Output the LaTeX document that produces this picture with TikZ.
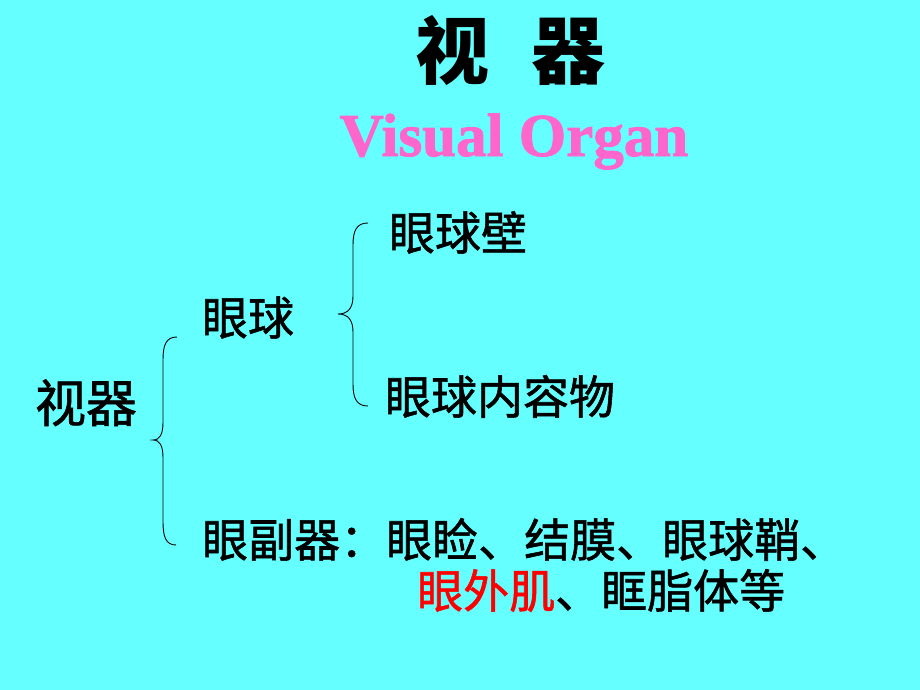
\documentclass[tikz,border=0pt]{standalone}
\usepackage{fontspec}
\setmainfont{Liberation Serif}
\newfontfamily\tnrb[FakeBold=1.5]{Liberation Serif Bold}
\newfontfamily\cjk{Noto Sans CJK SC}
\newfontfamily\cjkm[FakeBold=1.2]{Noto Sans CJK SC}
\definecolor{bgcyan}{HTML}{66FFFF}
\definecolor{pinkt}{HTML}{FF66CC}
\definecolor{redt}{HTML}{FF0000}
\begin{document}
\begin{tikzpicture}[x=1pt,y=-1pt,
  txt/.style={inner sep=0pt,anchor=base,font=\cjkm\fontsize{46}{46}\selectfont},
  brace/.style={draw=black,line width=0.9pt}]
\fill[bgcyan] (0,0) rectangle (920,690);
\useasboundingbox (0,0) rectangle (920,690);
% title
\node[txt,font=\cjk\bfseries\fontsize{74}{74}\selectfont] (t1) at (452,79) {视};
\node[txt,font=\cjk\bfseries\fontsize{74}{74}\selectfont] (t2) at (568,79) {器};
\node[inner sep=0pt,anchor=base,text=pinkt,font=\tnrb\fontsize{61}{61}\selectfont] (sub) at (514,156) {Visual Organ};
% items
\node[txt,font=\cjkm\fontsize{51}{51}\selectfont] (sq) at (86,422) {视器};
\node[txt] (yq) at (248,335) {眼球};
\node[txt] (yqb) at (458,250) {眼球壁};
\node[txt] (yqn) at (500,414) {眼球内容物};
\node[txt,anchor=base west] (yfq) at (202,557) {眼副器：眼睑、结膜、眼球鞘、};
\node[txt,anchor=base west] (yfq2) at (417,608) {\textcolor{redt}{眼外肌}、眶脂体等};
% braces
\coordinate (b1t) at (177,337);
\coordinate (b1m) at (153,440);
\coordinate (b1b) at (176,545);
\coordinate (b2t) at (368,223);
\coordinate (b2m) at (338,314);
\coordinate (b2b) at (368,406);
\draw[brace] (b1t) .. controls (166,337) and (163,345) .. (163,360)
  -- (163,422) .. controls (163,434) and (160,440) .. (b1m)
  .. controls (160,440) and (163,446) .. (163,458)
  -- (163,522) .. controls (163,537) and (166,545) .. (b1b);
\draw[brace] (b2t) .. controls (357,223) and (353,230) .. (353,245)
  -- (353,296) .. controls (353,308) and (348,314) .. (b2m)
  .. controls (348,314) and (353,320) .. (353,332)
  -- (353,384) .. controls (353,399) and (357,406) .. (b2b);
\end{tikzpicture}
\end{document}
